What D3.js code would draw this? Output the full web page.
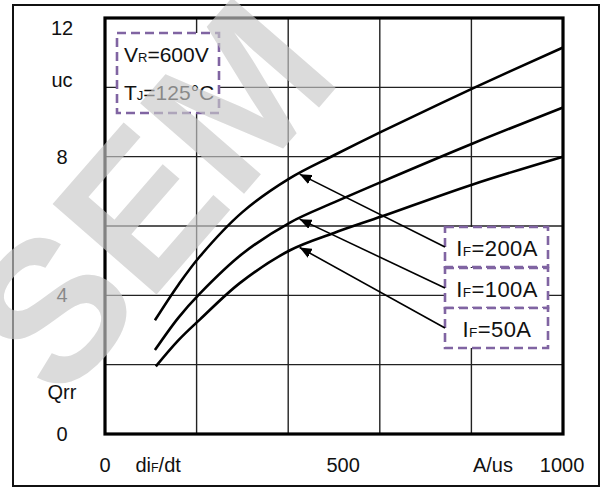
<!DOCTYPE html>
<html>
<head>
<meta charset="utf-8">
<script src="https://cdn.jsdelivr.net/npm/d3@7"></script>
<style>
	html, body { margin: 0; padding: 0; background: #fff; }
	svg { display: block; }
	text { font-family: "Liberation Sans", Arial, sans-serif; fill: #111; }
</style>
</head>
<body>
<svg id="chart" width="603" height="488"></svg>
<script>
// Qrr vs diF/dt, VR=600V, TJ=125C
var seriesNames = ["200A", "100A", "50A"];
var series200 = [[109, 3.28], [160, 4.3], [207, 5.12], [300, 6.4], [404, 7.38], [500, 8.04], [605, 8.73], [803, 9.97], [1000, 11.15]];
var series100 = [[109, 2.42], [160, 3.35], [207, 4.05], [300, 5.2], [404, 6.1], [500, 6.68], [605, 7.28], [803, 8.38], [1000, 9.42]];
var series50 = [[111, 1.95], [160, 2.7], [207, 3.30], [295, 4.36], [404, 5.3], [500, 5.8], [605, 6.28], [803, 7.2], [1000, 8.0]];
var allSeries = [series200, series100, series50];

var xGrid = [200, 400, 600, 800];
var yGrid = [2, 4, 6, 8, 10];
var yLabels = ["12", "uc", "8", "4", "Qrr", "0"];
var yLabelAt = [11.7, 10.2, 8, 4, 1.2, 0];
var xLabels = ["0", "di|F|/dt", "500", "A/us", "1000"];
var xLabelAt = [0, 116, 520, 847, 998];
var arrowAt = 425;

var svg = d3.select("#chart");
var x = d3.scaleLinear().domain([0, 1000]).range([105, 563]);
var y = d3.scaleLinear().domain([0, 12]).range([434, 18]);

svg.append("rect")
	.attr("width", 603).attr("height", 488).attr("fill", "#fff");

// outer frame
svg.append("rect")
	.attr("x", 13).attr("y", 5).attr("width", 586).attr("height", 481)
	.attr("fill", "none").attr("stroke", "#111").attr("stroke-width", 2);

// grid
svg.append("g").selectAll("line.vx")
	.data(xGrid).enter().append("line")
	.attr("x1", function(d){ return x(d); }).attr("x2", function(d){ return x(d); })
	.attr("y1", y(12)).attr("y2", y(0))
	.attr("stroke", "#222").attr("stroke-width", 1.4);
svg.append("g").selectAll("line.hy")
	.data(yGrid).enter().append("line")
	.attr("y1", function(d){ return y(d); }).attr("y2", function(d){ return y(d); })
	.attr("x1", x(0)).attr("x2", x(1000))
	.attr("stroke", "#222").attr("stroke-width", 1.4);

// curves
var line = d3.line()
	.x(function(d){ return x(d[0]); })
	.y(function(d){ return y(d[1]); })
	.curve(d3.curveCatmullRom.alpha(0.5));
svg.append("g").selectAll("path")
	.data(allSeries).enter().append("path")
	.attr("d", line)
	.attr("fill", "none").attr("stroke", "#000").attr("stroke-width", 2.6);

// plot frame
svg.append("rect")
	.attr("x", x(0)).attr("y", y(12)).attr("width", x(1000) - x(0)).attr("height", y(0) - y(12))
	.attr("fill", "none").attr("stroke", "#000").attr("stroke-width", 3.2);

// writes text with |sub| parts as small subscripts
function richText(sel, str, size){
	var parts = str.split("|");
	parts.forEach(function(p, i){
		if(p === "") return;
		sel.append("tspan")
			.attr("font-size", i % 2 ? size * 0.62 : size)
			.text(p);
	});
}

// axis labels
svg.append("g").selectAll("text")
	.data(yLabels).enter().append("text")
	.attr("x", 62)
	.attr("y", function(d, i){ return y(yLabelAt[i]) + 7; })
	.attr("text-anchor", "middle")
	.attr("font-size", 20)
	.text(function(d){ return d; });
svg.append("g").selectAll("text")
	.data(xLabels).enter().append("text")
	.attr("x", function(d, i){ return x(xLabelAt[i]); })
	.attr("y", 472)
	.attr("text-anchor", "middle")
	.attr("font-size", 20)
	.each(function(d){ richText(d3.select(this), d, 20); });

// condition box
var dash = "9,5", purple = "#8064a2";
svg.append("rect")
	.attr("x", 117).attr("y", 33).attr("width", 102).attr("height", 80)
	.attr("fill", "#fff").attr("stroke", purple).attr("stroke-width", 2.6)
	.attr("stroke-dasharray", dash);
richText(svg.append("text").attr("x", 124).attr("y", 62).attr("font-size", 21), "V|R|=600V", 21);
richText(svg.append("text").attr("x", 124).attr("y", 100).attr("font-size", 21), "T|J|=125°C", 21);

// series label boxes
var boxTop = [227, 268, 308];
svg.append("g").selectAll("rect")
	.data(seriesNames).enter().append("rect")
	.attr("x", 445).attr("y", function(d, i){ return boxTop[i]; })
	.attr("width", 103).attr("height", 40)
	.attr("fill", "#fff").attr("stroke", purple).attr("stroke-width", 2.6)
	.attr("stroke-dasharray", dash);
svg.append("g").selectAll("text")
	.data(seriesNames).enter().append("text")
	.attr("x", 497).attr("y", function(d, i){ return boxTop[i] + 29; })
	.attr("text-anchor", "middle")
	.attr("font-size", 22)
	.attr("letter-spacing", 0.4)
	.each(function(d){ richText(d3.select(this), "I|F|=" + d, 22); });

// arrows
svg.append("defs").append("marker")
	.attr("id", "head").attr("viewBox", "0 0 12 10")
	.attr("refX", 12).attr("refY", 5)
	.attr("markerWidth", 12).attr("markerHeight", 10)
	.attr("markerUnits", "userSpaceOnUse")
	.attr("orient", "auto")
	.append("path").attr("d", "M0,0 L12,5 L0,10 Z").attr("fill", "#000");

function valueAt(s, v){
	for(var k = 1; k < s.length; k++){
		if(s[k][0] >= v){
			var t = (v - s[k-1][0]) / (s[k][0] - s[k-1][0]);
			return s[k-1][1] + t * (s[k][1] - s[k-1][1]);
		}
	}
	return s[s.length-1][1];
}
svg.append("g").selectAll("line")
	.data(allSeries).enter().append("line")
	.attr("x1", 445).attr("y1", function(d, i){ return boxTop[i] + 20; })
	.attr("x2", x(arrowAt)).attr("y2", function(d){ return y(valueAt(d, arrowAt)) + 1; })
	.attr("stroke", "#000").attr("stroke-width", 1.6)
	.attr("marker-end", "url(#head)");

// watermark
svg.append("text")
	.attr("transform", "translate(150,196) rotate(-49)")
	.attr("text-anchor", "middle")
	.attr("dominant-baseline", "central")
	.attr("font-size", 200)
	.attr("font-weight", "bold")
	.style("fill", "#c8c8c8")
	.attr("opacity", 0.65)
	.text("SEM");
</script>
</body>
</html>
